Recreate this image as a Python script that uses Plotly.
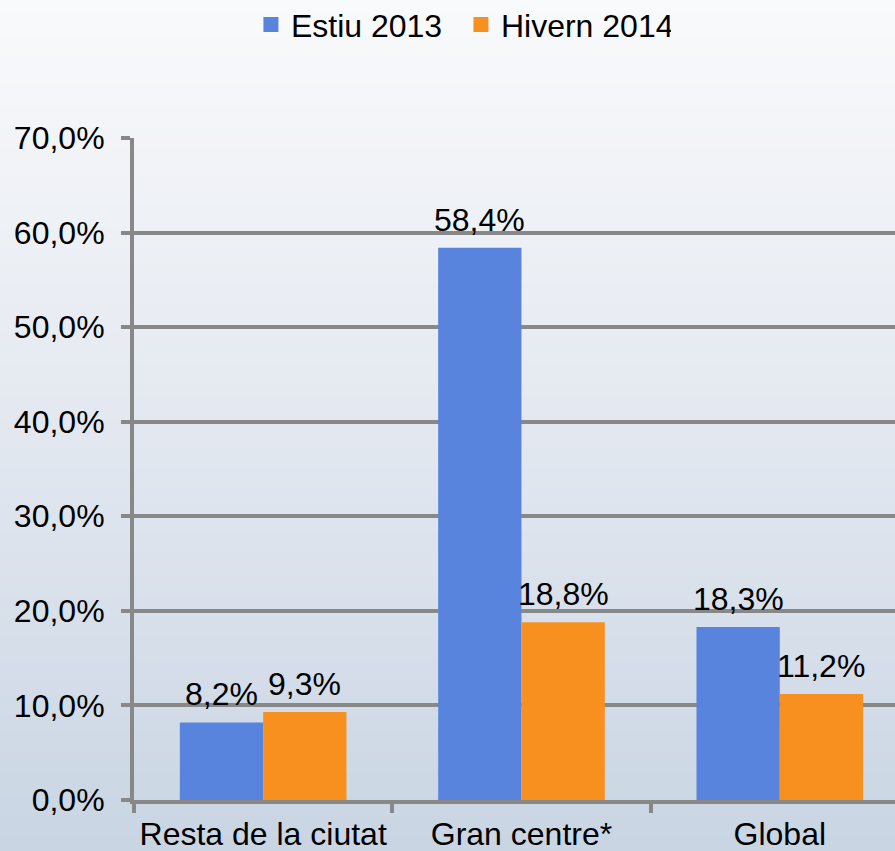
import plotly.graph_objects as go

# Chart data
categories = ["Resta de la ciutat", "Gran centre*", "Global"]
series_names = ["Estiu 2013", "Hivern 2014"]
estiu_2013 = [8.2, 58.4, 18.3]
hivern_2014 = [9.3, 18.8, 11.2]
y_ticks = [0, 10, 20, 30, 40, 50, 60, 70]

W, H = 895, 851
M_L, M_R, M_T, M_B = 134, 0, 138, 51
FONT = "Liberation Sans, Arial, sans-serif"
FS = 32
GRID = "#888888"
BARGAP = 0.355


def pct(v):
    return f"{v:.1f}%".replace(".", ",")


fig = go.Figure()
colors = ["#5884de", "#f7901f"]
series = [estiu_2013, hivern_2014]
bar_w = (1 - BARGAP) / len(series)
annotations = []
for k, (name, vals, col) in enumerate(zip(series_names, series, colors)):
    fig.add_trace(go.Bar(
        name=name, x=categories, y=vals, legendgroup=name, showlegend=False,
        marker=dict(color=col, line=dict(width=0)),
    ))
    # legend entry with a larger square swatch
    fig.add_trace(go.Scatter(
        name=name, x=[None], y=[None], mode="markers", legendgroup=name,
        marker=dict(symbol="square", size=15, color=col, line=dict(width=0)),
        hoverinfo="skip",
    ))
    # value labels above each bar
    offset = (k - (len(series) - 1) / 2) * bar_w
    for i, v in enumerate(vals):
        annotations.append(dict(
            x=i + offset, y=v, xref="x", yref="y", text=pct(v),
            showarrow=False, yanchor="bottom", xanchor="center", yshift=8,
            font=dict(size=FS, color="black", family=FONT),
        ))

# vertical background gradient behind the whole figure
plot_w = W - M_L - M_R
plot_h = H - M_T - M_B
stops = [(0, (249, 250, 252)), (120, (243, 245, 248)), (430, (227, 232, 240)), (851, (201, 213, 227))]


def color_at(py):
    for (y0, c0), (y1, c1) in zip(stops, stops[1:]):
        if py <= y1:
            t = (py - y0) / (y1 - y0)
            return tuple(round(a + (b - a) * t) for a, b in zip(c0, c1))
    return stops[-1][1]


shapes = []
n = 120
for i in range(n):
    py0 = H * i / n
    py1 = H * (i + 1) / n + 1
    r, g, b = color_at((py0 + py1) / 2)
    shapes.append(dict(
        type="rect", xref="paper", yref="paper", layer="below",
        x0=-M_L / plot_w, x1=1 + M_R / plot_w,
        y0=1 + (M_T - py1) / plot_h, y1=1 + (M_T - py0) / plot_h,
        fillcolor=f"rgb({r},{g},{b})", line=dict(width=0),
    ))

fig.update_layout(
    width=W, height=H,
    margin=dict(l=M_L, r=M_R, t=M_T, b=M_B),
    paper_bgcolor="rgba(0,0,0,0)", plot_bgcolor="rgba(0,0,0,0)",
    shapes=shapes, annotations=annotations,
    barmode="group", bargap=BARGAP, bargroupgap=0,
    font=dict(family=FONT, size=FS, color="black"),
    showlegend=True,
    legend=dict(
        orientation="h", xref="container", yref="container",
        x=0.515, xanchor="center", y=0.971, yanchor="middle",
        entrywidth=165, itemwidth=30,
        font=dict(size=FS, family=FONT), bgcolor="rgba(0,0,0,0)",
    ),
    xaxis=dict(
        range=[-0.5, 2.446], showgrid=False, automargin=False, tickangle=0,
        showline=True, linecolor=GRID, linewidth=4,
        ticks="outside", tickson="boundaries", ticklen=9, tickwidth=4, tickcolor=GRID,
        ticklabelstandoff=3,
        tickfont=dict(size=FS, family=FONT, color="black"),
    ),
    yaxis=dict(
        range=[0, 70], tickvals=y_ticks, ticktext=[pct(v) for v in y_ticks],
        automargin=False,
        showgrid=True, gridcolor=GRID, gridwidth=4, zeroline=False,
        showline=True, linecolor=GRID, linewidth=4,
        ticks="outside", ticklen=9, tickwidth=4, tickcolor=GRID,
        ticklabelstandoff=10,
        tickfont=dict(size=FS, family=FONT, color="black"),
    ),
)

fig.write_html("out.html")
